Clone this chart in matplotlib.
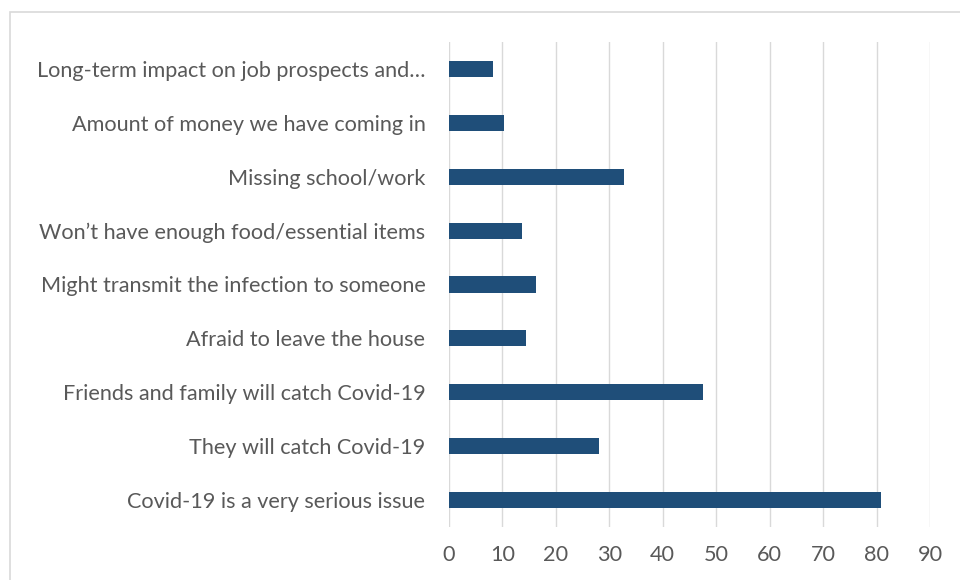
import matplotlib.pyplot as plt
import matplotlib.patches as patches

# Categories, bottom to top as drawn
categorias = [
    "Covid-19 is a very serious issue",
    "They will catch Covid-19",
    "Friends and family will catch Covid-19",
    "Afraid to leave the house",
    "Might transmit the infection to someone",
    "Won\u2019t have enough food/essential items",
    "Missing school/work",
    "Amount of money we have coming in",
    "Long-term impact on job prospects and\u2026",
]
valores = [80.8, 28.0, 47.6, 14.5, 16.3, 13.6, 32.8, 10.2, 8.3]
ticks_x = [0, 10, 20, 30, 40, 50, 60, 70, 80, 90]

plt.rcParams["font.family"] = ["Lato", "DejaVu Sans"]

fig = plt.figure(figsize=(9.6, 5.8), dpi=100)
ax = fig.add_axes([449 / 960, 1 - 527 / 580, (930 - 449) / 960, (527 - 42) / 580])

ax.barh(range(len(categorias)), valores, height=0.3, color="#1F4E79", zorder=3)

ax.set_xlim(0, 90)
ax.set_ylim(-0.5, len(categorias) - 0.5)
ax.set_xticks(ticks_x)
ax.set_yticks(range(len(categorias)))
ax.set_yticklabels(categorias)
ax.tick_params(axis="both", length=0, labelsize=15.6, colors="#595959")
ax.tick_params(axis="y", pad=17)
ax.tick_params(axis="x", pad=13)
ax.grid(axis="x", color="#D9D9D9", linewidth=1.0, zorder=0)
for s in ax.spines.values():
    s.set_visible(False)

# marco gris del gráfico (recortado a la derecha y abajo)
marco = patches.Rectangle((10 / 960, -0.1), 1.2, 1 - 12 / 580 + 0.1,
                          transform=fig.transFigure, fill=False,
                          edgecolor="#D9D9D9", linewidth=1.2, clip_on=False)
fig.patches.append(marco)

fig.savefig("out.png", dpi=100)
